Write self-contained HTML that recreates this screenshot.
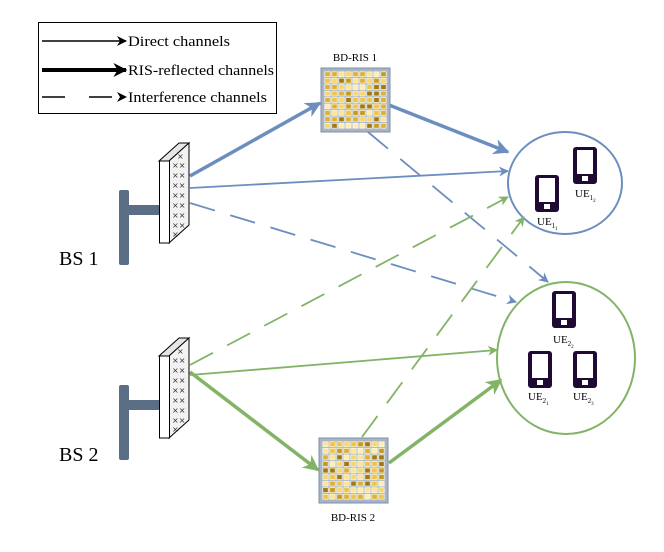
<!DOCTYPE html>
<html><head><meta charset="utf-8"><style>
html,body{margin:0;padding:0;background:#fff;}
svg{display:block;font-family:"Liberation Serif",serif;}
</style></head><body>
<svg id="s" width="664" height="552" viewBox="0 0 664 552" xmlns="http://www.w3.org/2000/svg">
<defs>
<marker id="abT" viewBox="0 0 10 10" refX="9" refY="5" markerWidth="18" markerHeight="16" orient="auto" markerUnits="userSpaceOnUse"><path d="M0,0L10,5L0,10L3,5z" fill="#6c8ebf"/></marker>
<marker id="abt" viewBox="0 0 10 10" refX="9" refY="5" markerWidth="12" markerHeight="10" orient="auto" markerUnits="userSpaceOnUse"><path d="M0,0L10,5L0,10L3,5z" fill="#6c8ebf"/></marker>
<marker id="ag" viewBox="0 0 10 10" refX="9" refY="5" markerWidth="12" markerHeight="10" orient="auto" markerUnits="userSpaceOnUse"><path d="M0,0L10,5L0,10L3,5z" fill="#82b366"/></marker>
<marker id="agT" viewBox="0 0 10 10" refX="9" refY="5" markerWidth="18" markerHeight="16" orient="auto" markerUnits="userSpaceOnUse"><path d="M0,0L10,5L0,10L3,5z" fill="#82b366"/></marker>
<marker id="ak" viewBox="0 0 10 10" refX="9" refY="5" markerWidth="12" markerHeight="10" orient="auto" markerUnits="userSpaceOnUse"><path d="M0,0L10,5L0,10L3,5z" fill="#000"/></marker>
<marker id="akT" viewBox="0 0 10 10" refX="9" refY="5" markerWidth="16" markerHeight="14" orient="auto" markerUnits="userSpaceOnUse"><path d="M0,0L10,5L0,10L3,5z" fill="#000"/></marker>
</defs>

<rect x="38.5" y="22.5" width="238" height="91" fill="#fff" stroke="#000" stroke-width="1"/>
<line x1="42" y1="41" x2="126" y2="41" stroke="#000" stroke-width="1.5" marker-end="url(#ak)"/>
<text x="128" y="46" font-size="15" textLength="102" lengthAdjust="spacingAndGlyphs">Direct channels</text>
<line x1="42" y1="70" x2="126" y2="70" stroke="#000" stroke-width="4" marker-end="url(#akT)"/>
<text x="128" y="75" font-size="15" textLength="146" lengthAdjust="spacingAndGlyphs">RIS-reflected channels</text>
<line x1="42" y1="97" x2="126" y2="97" stroke="#000" stroke-width="1.5" stroke-dasharray="23,24" marker-end="url(#ak)"/>
<text x="128" y="102" font-size="15" textLength="139" lengthAdjust="spacingAndGlyphs">Interference channels</text>

<ellipse cx="565" cy="183" rx="57" ry="51" fill="none" stroke="#6c8ebf" stroke-width="2"/>
<ellipse cx="566" cy="358" rx="69" ry="76" fill="none" stroke="#82b366" stroke-width="2"/>

<g fill="none">
<line x1="190" y1="176" x2="320" y2="103" stroke="#6c8ebf" stroke-width="3.5" marker-end="url(#abT)"/>
<line x1="389" y1="105" x2="508" y2="152" stroke="#6c8ebf" stroke-width="3.5" marker-end="url(#abT)"/>
<line x1="190" y1="188" x2="508" y2="171" stroke="#6c8ebf" stroke-width="1.8" marker-end="url(#abt)"/>
<line x1="190" y1="203" x2="516" y2="302" stroke="#6c8ebf" stroke-width="1.8" stroke-dasharray="26,16" marker-end="url(#abt)"/>
<line x1="368" y1="132" x2="548" y2="282" stroke="#6c8ebf" stroke-width="1.8" stroke-dasharray="26,16" marker-end="url(#abt)"/>
<line x1="190" y1="372" x2="318" y2="470" stroke="#82b366" stroke-width="3.5" marker-end="url(#agT)"/>
<line x1="389" y1="463" x2="501" y2="380" stroke="#82b366" stroke-width="3.5" marker-end="url(#agT)"/>
<line x1="190" y1="375" x2="497" y2="350" stroke="#82b366" stroke-width="1.8" marker-end="url(#ag)"/>
<line x1="190" y1="365" x2="508" y2="197" stroke="#82b366" stroke-width="1.8" stroke-dasharray="26,16" marker-end="url(#ag)"/>
<line x1="362" y1="437" x2="524" y2="217" stroke="#82b366" stroke-width="1.8" stroke-dasharray="26,16" marker-end="url(#ag)"/>
</g>

<g id="bs1">
<rect x="119" y="190" width="10" height="75" rx="2" fill="#5a6e85"/>
<rect x="127" y="205" width="33" height="10" fill="#5a6e85"/>
<polygon points="159,161 179,143 189,143 169,161" fill="#e6e6e6" stroke="#000" stroke-width="1"/>
<polygon points="169,161 189,143 189,225 169,243" fill="#f2f2f2" stroke="#000" stroke-width="1"/>
<rect x="159.5" y="161" width="10" height="82" fill="#fff" stroke="#000" stroke-width="1"/>
<text x="170" y="162" font-size="8" font-family="DejaVu Sans" fill="#333">
<tspan x="177" y="159">×</tspan><tspan x="172" y="168">××</tspan><tspan x="172" y="178">××</tspan><tspan x="172" y="188">××</tspan><tspan x="172" y="198">××</tspan><tspan x="172" y="208">××</tspan><tspan x="172" y="218">××</tspan><tspan x="172" y="228">××</tspan><tspan x="172" y="237">×</tspan>
</text>
</g>
<use href="#bs1" transform="translate(0,195)"/>
<text x="59" y="265" font-size="20">BS 1</text>
<text x="59" y="461" font-size="20">BS 2</text>

<rect x="321" y="68" width="69" height="64" fill="#a9b4c6" stroke="#8090a8"/>
<g id="g1"></g>
<text x="355" y="61" font-size="11" text-anchor="middle">BD-RIS 1</text>
<rect x="319" y="438" width="69" height="65" fill="#a9b4c6" stroke="#8090a8"/>
<g id="g2"></g>
<text x="353" y="521" font-size="11" text-anchor="middle">BD-RIS 2</text>

<g id="phones"></g>
<g font-size="11">
<text x="537" y="225">UE<tspan font-size="7" dy="3">1</tspan><tspan font-size="5" dy="2">1</tspan></text>
<text x="575" y="197">UE<tspan font-size="7" dy="3">1</tspan><tspan font-size="5" dy="2">2</tspan></text>
<text x="553" y="343">UE<tspan font-size="7" dy="3">2</tspan><tspan font-size="5" dy="2">2</tspan></text>
<text x="528" y="400">UE<tspan font-size="7" dy="3">2</tspan><tspan font-size="5" dy="2">1</tspan></text>
<text x="573" y="400">UE<tspan font-size="7" dy="3">2</tspan><tspan font-size="5" dy="2">3</tspan></text>
</g>
</svg>
<script>
var NS="http://www.w3.org/2000/svg";
var cols=["#fbe59a","#f8d76a","#f0c445","#e0b030","#c89a1a","#a07a10","#fdeeb8"];
var seed=7;function rnd(){seed=(seed*9301+49297)%233280;return seed/233280;}
function grid(id,x0,y0,w,h){var g=document.getElementById(id);var n=9,sx=(w-6)/n,sy=(h-6)/n;
for(var r=0;r<n;r++)for(var c=0;c<n;c++){var e=document.createElementNS(NS,"rect");
e.setAttribute("x",x0+3+c*sx+0.8);e.setAttribute("y",y0+3+r*sy+0.8);e.setAttribute("width",sx-1.6);e.setAttribute("height",sy-1.6);
var k=Math.floor(rnd()*cols.length);if(c>5&&r>1&&r<6)k=Math.min(5,k+2);
e.setAttribute("fill",cols[k]);e.setAttribute("stroke","#fff8e0");e.setAttribute("stroke-width","0.7");g.appendChild(e);}}
grid("g1",321,68,69,64);grid("g2",319,438,69,65);
var P=[[535,175],[573,147],[552,291],[528,351],[573,351]];var pg=document.getElementById("phones");
P.forEach(function(p){var a=document.createElementNS(NS,"rect");a.setAttribute("x",p[0]);a.setAttribute("y",p[1]);a.setAttribute("width",24);a.setAttribute("height",37);a.setAttribute("rx",3);a.setAttribute("fill","#1f0a33");pg.appendChild(a);
var b=document.createElementNS(NS,"rect");b.setAttribute("x",p[0]+4);b.setAttribute("y",p[1]+3);b.setAttribute("width",16);b.setAttribute("height",24);b.setAttribute("fill","#fff");pg.appendChild(b);
var c=document.createElementNS(NS,"rect");c.setAttribute("x",p[0]+9);c.setAttribute("y",p[1]+29);c.setAttribute("width",6);c.setAttribute("height",5);c.setAttribute("fill","#fff");pg.appendChild(c);});
</script>
</body></html>
